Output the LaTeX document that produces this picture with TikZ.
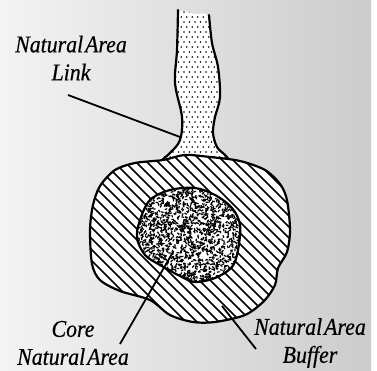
\documentclass[tikz,border=0pt]{standalone}
\usepackage{fontspec}
\setmainfont{Liberation Serif}
\newfontfamily\lblfont[FakeBold=0.5, FakeStretch=0.91]{Liberation Serif Italic}
\begin{document}
\begin{tikzpicture}[x=1pt,y=-1pt,
  outline/.style={line width=2.2pt, line join=round, line cap=round},
  leader/.style={line width=1.8pt},
  lbl/.style={font=\lblfont\fontsize{24}{28}\selectfont, align=center, inner sep=0pt}]
\def\stemfill{plot[smooth cycle, tension=0.55] coordinates {(178,13) (177,50) (175,83) (182,117) (180,140) (170,153) (158,163) (232,163) (225,155) (217,147) (213,133) (215,117) (220,97) (218,67) (212,43) (208,16) (195,14)}}
\def\stemline{plot[smooth, tension=0.55] coordinates {(178,10) (177,50) (175,83) (182,117) (180,140) (170,153) (158,163)} plot[smooth, tension=0.55] coordinates {(232,163) (225,155) (217,147) (213,133) (215,117) (220,97) (218,67) (212,43) (209,15)}}
\def\bufferpath{plot[smooth cycle, tension=0.5] coordinates {(163,160) (185,155) (210,157) (240,161) (265,170) (280,184) (287,200) (290,230) (287,252) (278,268) (275,285) (264,301) (245,315) (215,322) (193,322) (170,315) (150,300) (120,291) (100,280) (92,264) (90,230) (93,205) (100,186) (115,170) (135,163)}}
\def\corepath{plot[smooth cycle, tension=0.55] coordinates {(140,220) (150,200) (170,190) (195,188) (215,195) (232,208) (240,225) (238,250) (232,267) (215,278) (195,282) (180,276) (160,265) (145,255) (137,238)}}
% background
\useasboundingbox (0,0) rectangle (377,371);
\fill[white] (0,0) rectangle (377,371);
\shade[left color={rgb,255:red,243;green,243;blue,243}, right color={rgb,255:red,204;green,204;blue,204}] (0,0) rectangle (371,371);
% stem (link)
\fill[white] \stemfill;
\begin{scope}
  \clip \stemfill;
  \foreach \i in {0,...,30} {
    \foreach \j in {0,...,11} {
      \pgfmathsetmacro\xx{162+\j*5.5+mod(\i,2)*2.75}
      \fill (\xx,{12+\i*5}) circle (0.95);
    }
  }
\end{scope}
\draw[outline] \stemline;
% buffer
\fill[white] \bufferpath;
\begin{scope}
  \clip \bufferpath;
  \foreach \k in {-260,-249,...,300} {
    \draw[line width=1.6pt] ({\k},140) -- ++(200,200);
  }
\end{scope}
\draw[outline] \bufferpath;
% core
\fill[white] \corepath;
\begin{scope}
  \clip \corepath;
  \pgfmathsetseed{7}
  \foreach \n in {1,...,1700} {
    \pgfmathsetmacro\px{135+107*rnd}
    \pgfmathsetmacro\py{186+98*rnd}
    \pgfmathsetmacro\pa{360*rnd}
    \draw[line width=1.2pt] (\px,\py) -- ++(\pa:2.6);
  }
\end{scope}
\draw[outline] \corepath;
% labels
\node[lbl] (link) at (71,58) {Natural\kern2pt Area\\Link};
\node[lbl] (core) at (73,343) {Core\\Natural\kern2pt Area};
\node[lbl] (buffer) at (310,343) {Natural\kern2pt Area\\Buffer};
% leader lines
\coordinate (linkA) at (68,95);
\coordinate (linkB) at (180,137);
\coordinate (coreA) at (120,344);
\coordinate (coreB) at (173,252);
\coordinate (bufA) at (256,349);
\coordinate (bufB) at (222,306);
\draw[leader] (linkA) -- (linkB);
\draw[leader] (coreA) -- (coreB);
\draw[leader] (bufA) -- (bufB);
\end{tikzpicture}
\end{document}
